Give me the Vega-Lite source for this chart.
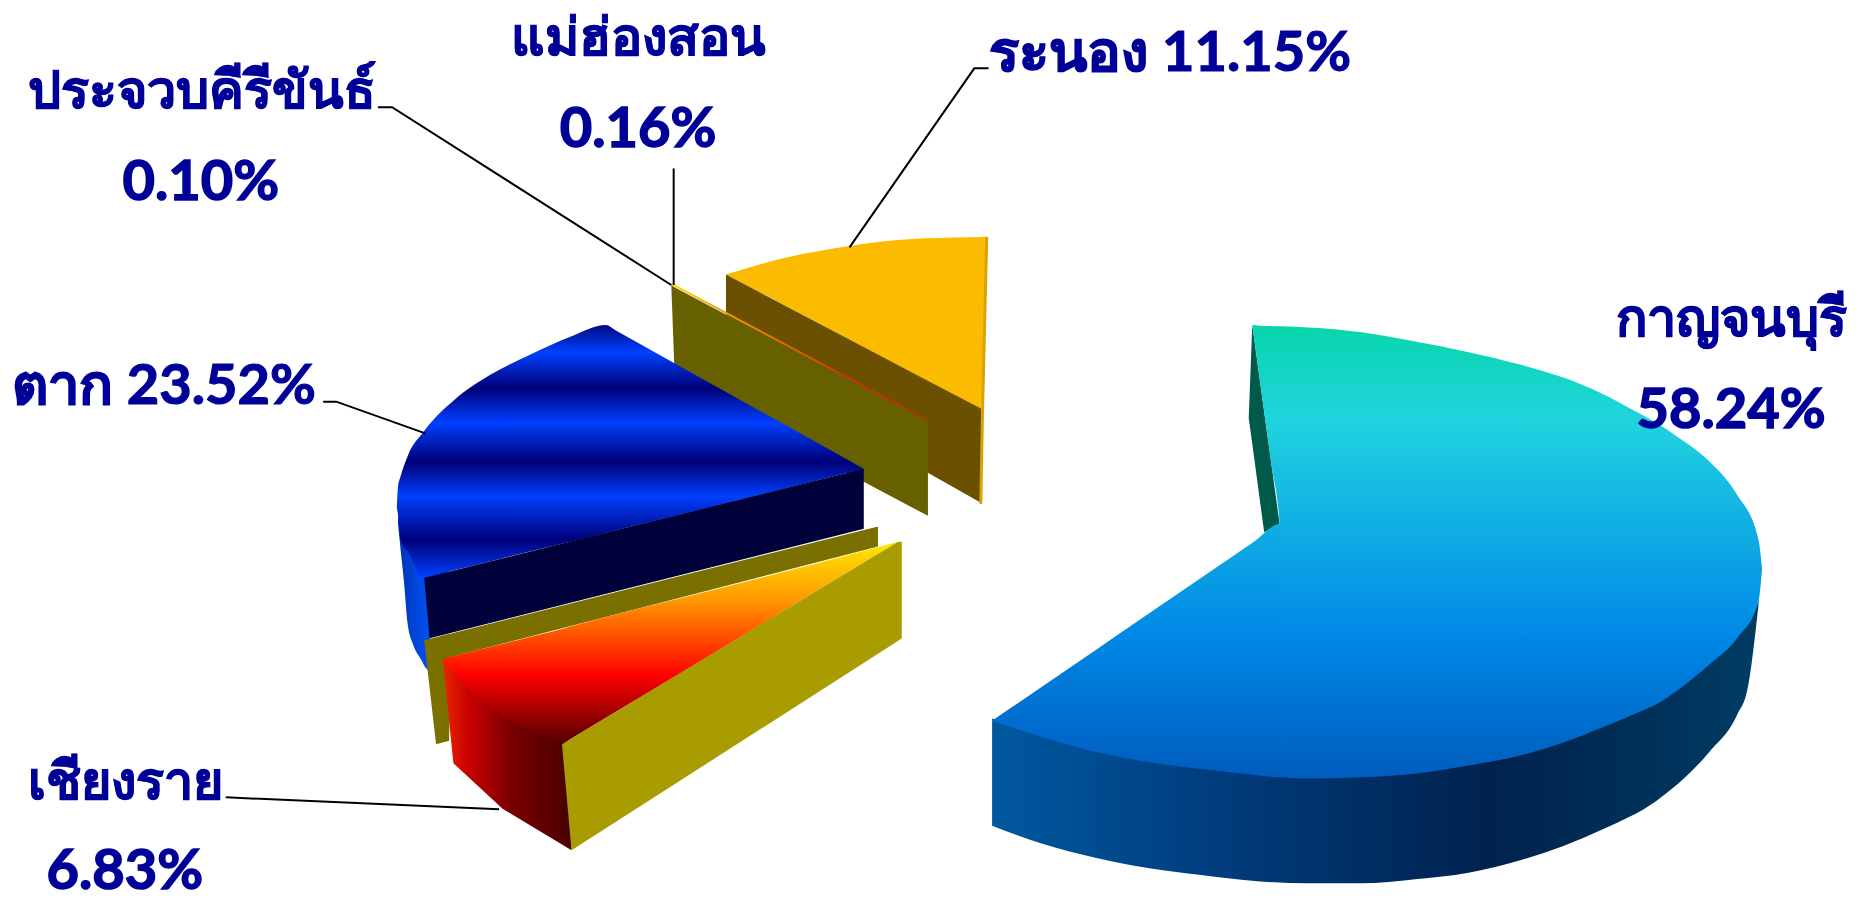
{
"$schema":"https://vega.github.io/schema/vega-lite/v6.json",
"width":1863,"height":900,"padding":0,"autosize":{"type":"fit","contains":"padding"},
"background":"white","view":{"stroke":null},
"encoding":{
"x":{"field":"x","type":"quantitative","axis":null,"scale":{"domain":[0,1568],"nice":false,"zero":false}},
"y":{"field":"y","type":"quantitative","axis":null,"scale":{"domain":[756.5,0],"nice":false,"zero":false}}
},
"layer":[
{"data":{"values":[{"x":611,"y":233,"y2":233},{"x":660,"y":219,"y2":259},{"x":714,"y":209,"y2":288},{"x":767,"y":203,"y2":316.5},{"x":815,"y":201.5,"y2":341.5},{"x":826,"y":201.2,"y2":347},{"x":830,"y":201,"y2":205}]},
"mark":{"type":"area","fill":"#fbbc00","stroke":null,"interpolate":"monotone"},"encoding":{"y2":{"field":"y2"}}},
{"data":{"values":[{"x":611,"y":233,"y2":267},{"x":782,"y":324,"y2":402},{"x":826,"y":347,"y2":427}]},
"mark":{"type":"area","fill":"#6a5000"},"encoding":{"y2":{"field":"y2"}}},
{"data":{"values":[{"i":1,"x":830.5,"y":201},{"i":2,"x":827,"y":347},{"i":3,"x":825.5,"y":428}]},
"mark":{"type":"line","stroke":"#d9a400","strokeWidth":3},"encoding":{"order":{"field":"i"}}},
{"data":{"values":[{"x":565,"y":242,"y2":242},{"x":568,"y":244,"y2":324},{"x":781,"y":358,"y2":438}]},
"mark":{"type":"area","fill":"#666000"},"encoding":{"y2":{"field":"y2"}}},
{"data":{"values":[{"i":1,"x":565,"y":241},{"i":2,"x":781,"y":357}]},
"mark":{"type":"line","strokeWidth":2,"stroke":{"gradient":"linear","x1":0,"y1":0,"x2":1,"y2":0,"stops":[{"offset":0,"color":"#ffe000"},{"offset":0.2,"color":"#f0a000"},{"offset":0.7,"color":"#d03000"},{"offset":1,"color":"#a04000"}]}},
"encoding":{"order":{"field":"i"}}},
{"data":{"values":[{"x":335,"y":430,"y2":445},{"x":337,"y":430,"y2":465},{"x":340,"y":430,"y2":494},{"x":343,"y":440,"y2":529},{"x":348,"y":450,"y2":548},{"x":355,"y":460,"y2":561},{"x":357,"y":470,"y2":565},{"x":362,"y":480,"y2":570}]},
"mark":{"type":"area","interpolate":"monotone","fill":{"gradient":"linear","x1":0,"y1":0,"x2":1,"y2":0,"stops":[{"offset":0,"color":"#0030b0"},{"offset":0.6,"color":"#0048e0"},{"offset":1,"color":"#0050f0"}]}},"encoding":{"y2":{"field":"y2"}}},
{"data":{"values":[{"x":334,"y":431,"y2":431},{"x":335,"y":413,"y2":437},{"x":337,"y":405,"y2":458},{"x":343,"y":387.5,"y2":468},{"x":357,"y":366,"y2":490.5},{"x":383,"y":339,"y2":484},{"x":413,"y":318,"y2":476.5},{"x":446.5,"y":301,"y2":468},{"x":480,"y":286,"y2":460},{"x":510,"y":276,"y2":452.5},{"x":518,"y":280.5,"y2":450.5},{"x":600,"y":326.6,"y2":430},{"x":727,"y":398,"y2":398}]},
"mark":{"type":"area","interpolate":"monotone","fill":{"gradient":"linear","x1":0,"y1":0,"x2":0,"y2":1,"stops":[{"offset":0,"color":"#000a80"},{"offset":0.108,"color":"#0040ff"},{"offset":0.25,"color":"#000078"},{"offset":0.385,"color":"#0040ff"},{"offset":0.543,"color":"#000078"},{"offset":0.678,"color":"#0040ff"},{"offset":0.85,"color":"#00007a"},{"offset":1,"color":"#0040ff"}]}},"encoding":{"y2":{"field":"y2"}}},
{"data":{"values":[{"x":357,"y":490.5,"y2":490.5},{"x":361.6,"y":489.5,"y2":542},{"x":727,"y":398,"y2":449}]},
"mark":{"type":"area","fill":"#00003a"},"encoding":{"y2":{"field":"y2"}}},
{"data":{"values":[{"x":357,"y":543.5,"y2":543.5},{"x":367,"y":541,"y2":632},{"x":378,"y":538,"y2":629},{"x":379,"y":538,"y2":558},{"x":739,"y":447,"y2":464}]},
"mark":{"type":"area","fill":"#7a7000"},"encoding":{"y2":{"field":"y2"}}},
{"data":{"values":[{"x":372.6,"y":559.6,"y2":559.6},{"x":381.6,"y":566,"y2":648},{"x":423,"y":598,"y2":686.6},{"x":473,"y":630,"y2":717},{"x":481,"y":630,"y2":722}]},
"mark":{"type":"area","fill":{"gradient":"linear","x1":0,"y1":0,"x2":1,"y2":0,"stops":[{"offset":0,"color":"#e82800"},{"offset":0.2,"color":"#c80000"},{"offset":0.55,"color":"#780000"},{"offset":1,"color":"#480000"}]}},"encoding":{"y2":{"field":"y2"}}},
{"data":{"values":[{"x":372.6,"y":559.6,"y2":559.6},{"x":386.6,"y":556,"y2":577},{"x":420,"y":547.5,"y2":606},{"x":445,"y":541,"y2":620},{"x":473,"y":534,"y2":632},{"x":480,"y":532,"y2":627.7},{"x":600,"y":501,"y2":555},{"x":700,"y":475,"y2":494},{"x":756,"y":460,"y2":460}]},
"mark":{"type":"area","interpolate":"monotone","fill":{"gradient":"linear","x1":0,"y1":0,"x2":0,"y2":1,"stops":[{"offset":0,"color":"#ffe800"},{"offset":0.29,"color":"#ff9800"},{"offset":0.66,"color":"#ff0000"},{"offset":1,"color":"#500000"}]}},"encoding":{"y2":{"field":"y2"}}},
{"data":{"values":[{"x":473,"y":632,"y2":632},{"x":481,"y":627,"y2":722},{"x":756,"y":460,"y2":544},{"x":759,"y":460,"y2":542}]},
"mark":{"type":"area","fill":"#a89c00"},"encoding":{"y2":{"field":"y2"}}},
{"data":{"values":[{"x":835,"y":610,"y2":701},{"x":876,"y":623,"y2":716},{"x":921,"y":635,"y2":728},{"x":966,"y":644,"y2":737},{"x":1011,"y":650,"y2":743},{"x":1056,"y":655,"y2":748},{"x":1101,"y":658,"y2":750},{"x":1146,"y":657,"y2":750},{"x":1191,"y":654,"y2":746.5},{"x":1236,"y":647,"y2":741},{"x":1281,"y":638,"y2":730},{"x":1349,"y":614,"y2":704},{"x":1394,"y":594,"y2":680},{"x":1439,"y":560,"y2":638},{"x":1462,"y":538,"y2":607},{"x":1471,"y":525,"y2":584},{"x":1480,"y":508,"y2":514}]},
"mark":{"type":"area","interpolate":"monotone","fill":{"gradient":"linear","x1":0,"y1":0,"x2":1,"y2":0,"stops":[{"offset":0,"color":"#0058a0"},{"offset":0.3,"color":"#003c7c"},{"offset":0.65,"color":"#00224e"},{"offset":0.85,"color":"#003058"},{"offset":1,"color":"#003c64"}]}},"encoding":{"y2":{"field":"y2"}}},
{"data":{"values":[{"x":1051,"y":355,"y2":355},{"x":1054,"y":276,"y2":377},{"x":1064,"y":349.5,"y2":452},{"x":1077,"y":445,"y2":445}]},
"mark":{"type":"area","fill":"#005a4a"},"encoding":{"y2":{"field":"y2"}}},
{"data":{"values":[{"x":835,"y":612,"y2":612},{"x":876,"y":583.7,"y2":625.5},{"x":921,"y":552.7,"y2":638},{"x":966,"y":521.6,"y2":647},{"x":1011,"y":490.6,"y2":653},{"x":1056,"y":459.5,"y2":658},{"x":1077,"y":445,"y2":660},{"x":1078,"y":445,"y2":660}]},
"mark":{"type":"area","interpolate":"monotone","fill":{"gradient":"linear","x1":0,"y1":0,"x2":0,"y2":1,"stops":[{"offset":0,"color":"#10aee2"},{"offset":0.441,"color":"#0088e6"},{"offset":1,"color":"#005cbe"}]}},"encoding":{"y2":{"field":"y2"}}},
{"data":{"values":[{"x":1054,"y":276,"y2":276},{"x":1060,"y":276.5,"y2":320},{"x":1070,"y":276.8,"y2":394},{"x":1077,"y":277,"y2":445},{"x":1077.5,"y":277,"y2":660},{"x":1101,"y":278,"y2":661},{"x":1146,"y":282,"y2":660},{"x":1191,"y":290,"y2":657},{"x":1236,"y":299,"y2":650},{"x":1281,"y":310,"y2":641},{"x":1317,"y":321,"y2":630},{"x":1349,"y":334.5,"y2":617.5},{"x":1376,"y":349,"y2":606},{"x":1394,"y":359,"y2":598},{"x":1412,"y":371,"y2":586},{"x":1439,"y":392,"y2":564},{"x":1462,"y":420,"y2":542},{"x":1480,"y":458,"y2":511},{"x":1483,"y":482,"y2":484}]},
"mark":{"type":"area","interpolate":"monotone","fill":{"gradient":"linear","x1":0,"y1":0,"x2":0,"y2":1,"stops":[{"offset":0,"color":"#07d6aa"},{"offset":0.206,"color":"#20d4de"},{"offset":0.69,"color":"#0088e6"},{"offset":1,"color":"#005cbe"}]}},"encoding":{"y2":{"field":"y2"}}},
{"data":{"values":[
{"s":"a","i":1,"x":832,"y":58},{"s":"a","i":2,"x":820,"y":58},{"s":"a","i":3,"x":715,"y":210},
{"s":"b","i":1,"x":318,"y":91},{"s":"b","i":2,"x":330,"y":91},{"s":"b","i":3,"x":565,"y":242},
{"s":"d","i":1,"x":272,"y":341},{"s":"d","i":2,"x":283,"y":341},{"s":"d","i":3,"x":358,"y":368},
{"s":"e","i":1,"x":190,"y":677},{"s":"e","i":2,"x":420,"y":687},
{"s":"c","i":1,"x":567,"y":143},{"s":"c","i":2,"x":567,"y":242}]},
"mark":{"type":"line","stroke":"#000000","strokeWidth":2},"encoding":{"detail":{"field":"s"},"order":{"field":"i"}}},
{"data":{"values":[{"t":"ประจวบคีรีขันธ์","x":170,"y":92},{"t":"แม่ฮ่องสอน","x":537,"y":47},{"t":"กาญจนบุรี","x":1457,"y":285},{"t":"เชียงราย","x":106,"y":678}]},
"mark":{"type":"text","font":"Lato","fontWeight":"bold","fontSize":52,"fill":"#000099","stroke":"#000099","strokeWidth":0.8,"align":"center","baseline":"alphabetic"},
"encoding":{"text":{"field":"t"}}},
{"data":{"values":[{"t":"ระนอง 11.15%","x":985,"y":60},{"t":"ตาก 23.52%","x":138,"y":343}]},
"mark":{"type":"text","font":"Lato","fontWeight":"bold","fontSize":56,"fill":"#000099","stroke":"#000099","strokeWidth":1.2,"align":"center","baseline":"alphabetic"},
"encoding":{"text":{"field":"t"}}},
{"data":{"values":[{"t":"0.10%","x":169,"y":169.5},{"t":"0.16%","x":537,"y":125},{"t":"58.24%","x":1457,"y":363},{"t":"6.83%","x":105,"y":754.5}]},
"mark":{"type":"text","font":"Lato","fontWeight":"bold","fontSize":56,"fill":"#000099","stroke":"#000099","strokeWidth":1.5,"align":"center","baseline":"alphabetic"},
"encoding":{"text":{"field":"t"}}}
]
}
